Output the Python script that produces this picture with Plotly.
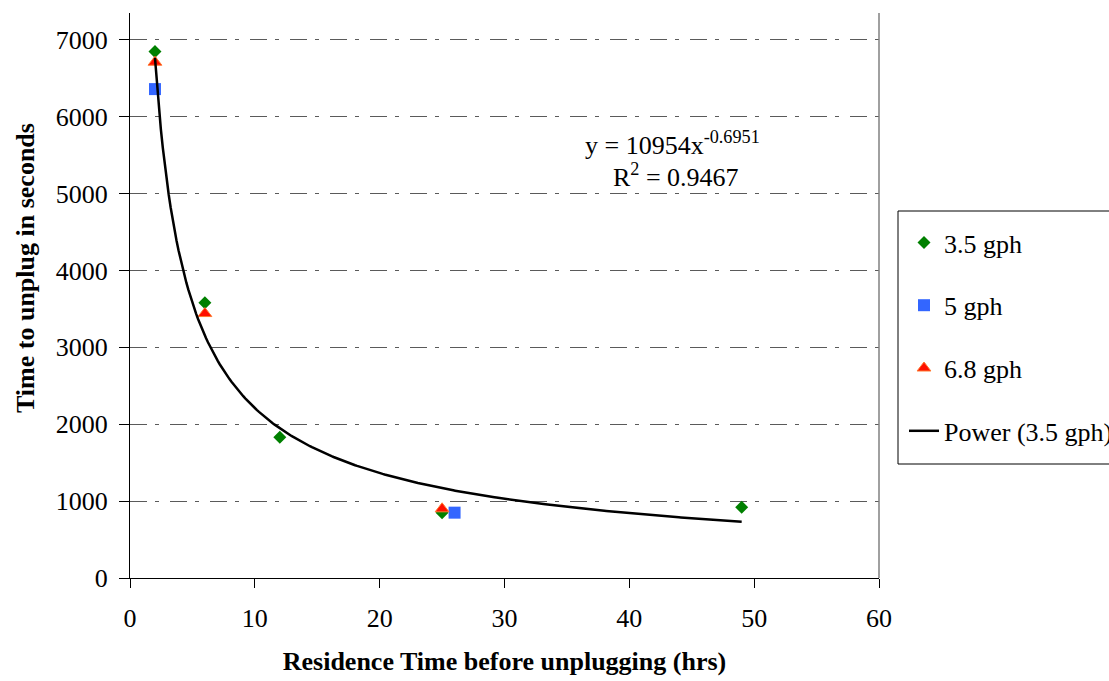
import numpy as np
import plotly.graph_objects as go

# Data
x_35 = [2, 6, 12, 25, 49]
y_35 = [6850, 3580, 1830, 850, 920]
x_5 = [2, 26]
y_5 = [6360, 850]
x_68 = [2, 6, 25]
y_68 = [6710, 3440, 900]

# Power trendline coefficients (as printed on chart) for 3.5 gph
fit_a = 10954
fit_b = -0.6951
fit_xmin, fit_xmax = min(x_35), max(x_35)

x_ticks = [0, 10, 20, 30, 40, 50, 60]
y_ticks = [0, 1000, 2000, 3000, 4000, 5000, 6000, 7000]

FONT = "Liberation Serif"

fit_x = np.linspace(fit_xmin, fit_xmax, 300)
fit_y = fit_a * fit_x ** fit_b

fig = go.Figure()
fig.add_trace(go.Scatter(x=x_35, y=y_35, mode="markers", name="3.5 gph", legendgroup="a",
                         marker=dict(symbol="diamond", size=10, color="#008000", line=dict(width=0))))
fig.add_trace(go.Scatter(x=x_5, y=y_5, mode="markers", name="5 gph", legendgroup="b",
                         marker=dict(symbol="square", size=12, color="#3366FF", line=dict(width=0))))
fig.add_trace(go.Scatter(x=x_68, y=y_68, mode="markers", name="6.8 gph", legendgroup="c",
                         marker=dict(symbol="triangle-up", size=12, color="#FF1000",
                                     line=dict(width=1, color="#FF7A30"))))
fig.add_trace(go.Scatter(x=fit_x, y=fit_y, mode="lines", name="Power (3.5 gph)", legendgroup="d",
                         line=dict(color="black", width=2.5)))

fig.update_layout(
    width=1109, height=681,
    margin=dict(l=130, r=230, t=13, b=103, autoexpand=False),
    paper_bgcolor="white", plot_bgcolor="white",
    font=dict(family=FONT, size=26, color="black"),
    showlegend=True,
    legend=dict(x=(904 - 130) / 749, y=(578 - 219) / 565, xanchor="left", yanchor="top",
                borderwidth=0, bgcolor="rgba(0,0,0,0)",
                font=dict(family=FONT, size=26, color="black"), tracegroupgap=26,
                itemwidth=30),
    xaxis=dict(range=[0, 60], tickvals=x_ticks, ticks="outside", ticklen=9,
               tickcolor="black", showline=True, linecolor="black", linewidth=1,
               showgrid=False, zeroline=False,
               tickfont=dict(family=FONT, size=26, color="black"), ticklabelstandoff=8,
               title=dict(text="<b>Residence Time before unplugging (hrs)</b>",
                          font=dict(family=FONT, size=26, color="black"), standoff=19)),
    yaxis=dict(range=[0, 7350], tickvals=y_ticks, ticks="outside", ticklen=10,
               tickcolor="black", showline=True, linecolor="black", linewidth=1,
               showgrid=True, gridcolor="#5a5a5a", gridwidth=1,
               griddash="17px,8px,4px,11px", zeroline=False,
               tickfont=dict(family=FONT, size=26, color="black"), ticklabelstandoff=6),
    annotations=[
        dict(text="<b>Time to unplug in seconds</b>", textangle=-90,
             xref="paper", yref="paper", x=(25 - 130) / 749, y=(578 - 268) / 565,
             xanchor="center", yanchor="middle", showarrow=False,
             font=dict(family=FONT, size=26, color="black")),
        dict(text="y = 10954x<sup>-0.6951</sup>", xref="paper", yref="paper",
             x=(672 - 130) / 749, y=(578 - 143) / 565, xanchor="center", yanchor="middle",
             showarrow=False, font=dict(family=FONT, size=26, color="black")),
        dict(text="R<sup>2</sup> = 0.9467", xref="paper", yref="paper",
             x=(676 - 130) / 749, y=(578 - 175) / 565, xanchor="center", yanchor="middle",
             showarrow=False, font=dict(family=FONT, size=26, color="black")),
    ],
    shapes=[
        dict(type="line", xref="paper", yref="paper", x0=1, x1=1, y0=0, y1=1,
             line=dict(color="#808080", width=1.5)),
        dict(type="rect", xref="paper", yref="paper",
             x0=(898 - 130) / 749, x1=(1120 - 130) / 749,
             y0=(578 - 464) / 565, y1=(578 - 211) / 565,
             line=dict(color="black", width=1), fillcolor="rgba(0,0,0,0)", layer="above"),
    ],
)

fig.write_html("out.html")
